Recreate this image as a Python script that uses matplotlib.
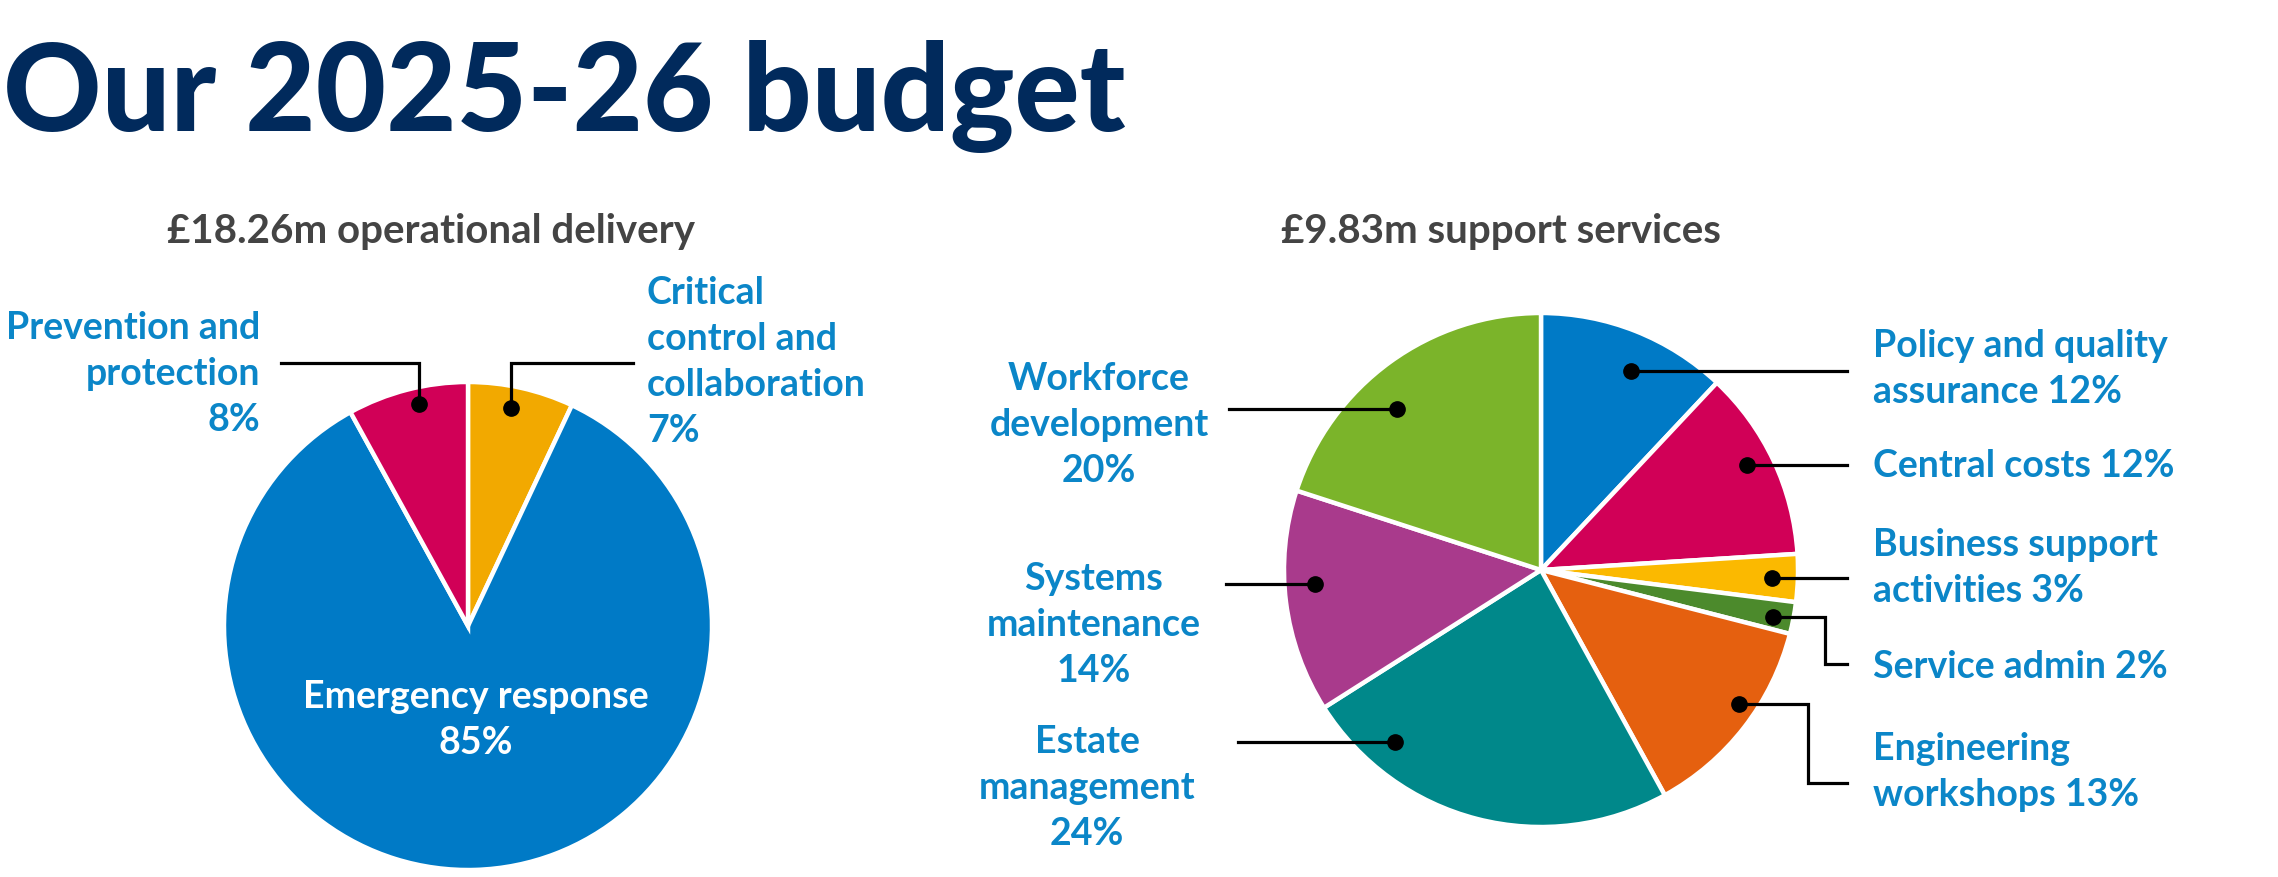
import numpy as np
import matplotlib
matplotlib.use("Agg")
import matplotlib.pyplot as plt

# ---------------- data ----------------
title = "Our 2025-26 budget"
op_title = "£18.26m operational delivery"
op_labels = ["Critical\ncontrol and\ncollaboration\n7%", "Emergency response\n85%", "Prevention and\nprotection\n8%"]
op_values = [7, 85, 8]

sup_title = "£9.83m support services"
sup_labels = ["Policy and quality\nassurance 12%", "Central costs 12%", "Business support\nactivities 3%",
              "Service admin 2%", "Engineering\nworkshops 13%", "Estate\nmanagement\n24%",
              "Systems\nmaintenance\n14%", "Workforce\ndevelopment\n20%"]
sup_values = [12, 12, 3, 2, 13, 24, 14, 20]

# ---------------- style ----------------
W, H = 2278, 878
FONT = "Lato"
NAVY = "#012a5c"
GREY = "#444444"
LBLUE = "#0b86c8"
op_colors = ["#f2a900", "#007ac6", "#d10057"]
sup_colors = ["#007ac6", "#d10057", "#fbb900", "#4c8a2c", "#e5600f", "#00888a", "#a93a8c", "#7bb42a"]

fig = plt.figure(figsize=(W / 100, H / 100), dpi=100)
ax = fig.add_axes([0, 0, 1, 1])

def Y(y):
    return H - y

# pies
op_c, op_r = (468, 627), 244
sup_c, sup_r = (1541, 571), 257
wp = dict(edgecolor="white", linewidth=3.2)
op_w, _ = ax.pie(op_values, colors=op_colors, startangle=90, counterclock=False,
                 center=(op_c[0], Y(op_c[1])), radius=op_r, wedgeprops=wp)
sup_w, _ = ax.pie(sup_values, colors=sup_colors, startangle=90, counterclock=False,
                  center=(sup_c[0], Y(sup_c[1])), radius=sup_r, wedgeprops=wp)

ax.set_xlim(0, W)
ax.set_ylim(0, H)
ax.set_aspect("equal")
ax.axis("off")

# title & subtitles
ax.text(3, Y(131), title, fontsize=87.5, fontweight="black", family=FONT, color=NAVY,
        ha="left", va="baseline")
ax.text(431, Y(232), op_title, fontsize=29, fontweight="bold", family=FONT, color=GREY,
        ha="center", va="center")
ax.text(1501, Y(232), sup_title, fontsize=29, fontweight="bold", family=FONT, color=GREY,
        ha="center", va="center")

LFS = 27
LSP = 1.42

def anchor(wedge, c, r, frac, rfrac):
    t = np.deg2rad(wedge.theta1 + frac * (wedge.theta2 - wedge.theta1))
    return c[0] + rfrac * r * np.cos(t), Y(c[1]) + rfrac * r * np.sin(t)

def leader(pts):
    xs, ys = zip(*pts)
    ax.plot(xs, ys, color="black", lw=2.3, solid_joinstyle="miter", zorder=5)
    ax.plot(xs[0], ys[0], "o", color="black", ms=11, zorder=6)

# operational pie labels
ax.text(476, Y(720), op_labels[1], fontsize=LFS, fontweight="bold", family=FONT, color="white",
        ha="center", va="center", linespacing=LSP, zorder=7)
# Critical
x0, y0 = anchor(op_w[0], op_c, op_r, 0.56, 0.91)
leader([(x0, y0), (x0, Y(364)), (633, Y(364))])
ax.text(647, Y(362), op_labels[0], fontsize=LFS, fontweight="bold", family=FONT, color=LBLUE,
        ha="left", va="center", linespacing=LSP)
# Prevention
x0, y0 = anchor(op_w[2], op_c, op_r, 0.43, 0.93)
leader([(x0, y0), (x0, Y(364)), (281, Y(364))])
ax.text(260, Y(374), op_labels[2], fontsize=LFS, fontweight="bold", family=FONT, color=LBLUE,
        ha="right", va="center", linespacing=LSP, multialignment="right")

# support pie labels: (index, frac, rfrac, route, text x, text y, ha)
END_R = 1847
TX_R = 1873
specs = [
    (0, 0.44, 0.85, None, TX_R, 369, "left"),
    (1, 0.54, 0.90, None, TX_R, 466, "left"),
    (2, 0.48, 0.90, None, TX_R, 568, "left"),
    (3, 0.40, 0.92, (1825, 665), TX_R, 667, "left"),
    (4, 0.58, 0.93, (1808, 784), TX_R, 772, "left"),
    (5, 0.20, 0.88, None, 1087, 788, "center"),
    (6, 0.43, 0.88, None, 1094, 625, "center"),
    (7, 0.58, 0.84, None, 1099, 425, "center"),
]
left_end = {5: 1238, 6: 1226, 7: 1229}
for i, frac, rf, route, tx, ty, ha in specs:
    x0, y0 = anchor(sup_w[i], sup_c, sup_r, frac, rf)
    if ha == "left":
        if route is None:
            pts = [(x0, y0), (END_R, y0)]
        else:
            ex, ey = route
            pts = [(x0, y0), (ex, y0), (ex, Y(ey)), (END_R, Y(ey))]
    else:
        pts = [(x0, y0), (left_end[i], y0)]
    leader(pts)
    ax.text(tx, Y(ty), sup_labels[i], fontsize=LFS, fontweight="bold", family=FONT, color=LBLUE,
            ha=ha, va="center", linespacing=LSP, multialignment=ha)

fig.savefig("out.png", dpi=100, facecolor="white")
